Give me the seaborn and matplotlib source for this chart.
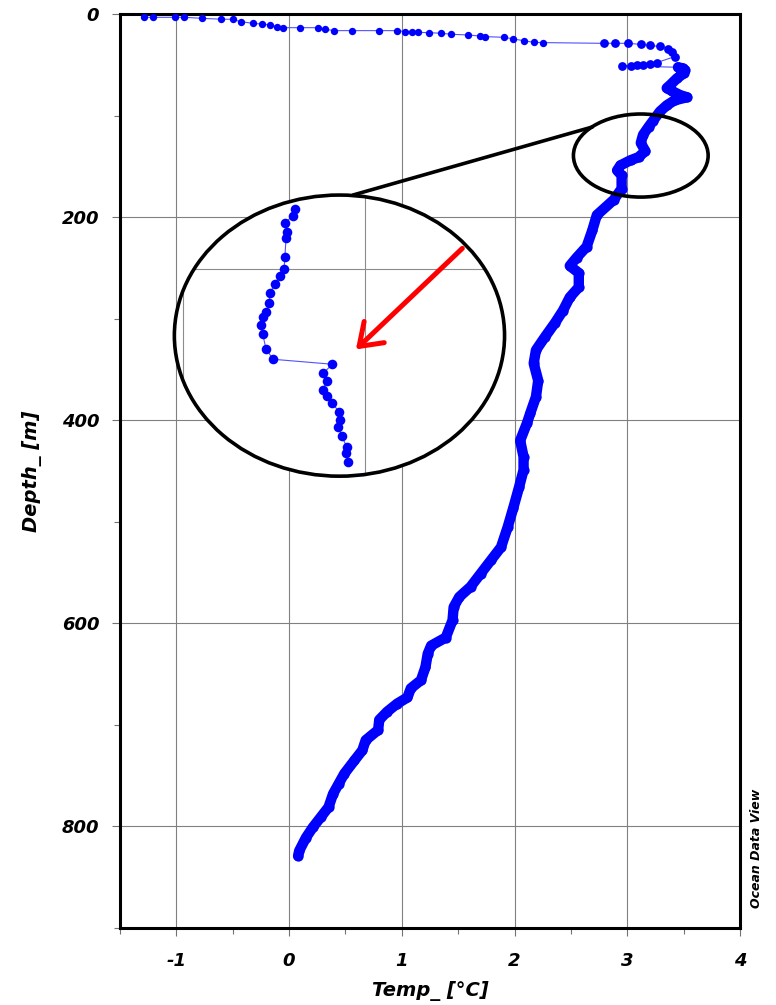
import numpy as np
import pandas as pd
import seaborn as sns
import matplotlib.pyplot as plt
from matplotlib.patches import Ellipse, FancyArrowPatch

# CTD cast: temperature (deg C) and depth (m)
temp = [-1.29, -1.21, -1.01, -0.93, -0.77, -0.60, -0.50, -0.43, -0.32, -0.24,
        -0.17, -0.11, -0.05, 0.10, 0.26, 0.32, 0.40, 0.56, 0.80, 0.96,
        1.03, 1.09, 1.14, 1.24, 1.35, 1.44, 1.59, 1.69, 1.74, 1.91,
        1.99, 2.08, 2.17, 2.25, 2.79, 2.89, 3.01, 3.12, 3.20, 3.29,
        3.36, 3.40, 3.42, 3.26, 3.20, 3.14, 3.09, 3.03, 2.95, 3.45,
        3.49, 3.51, 3.50, 3.44, 3.38, 3.35, 3.40, 3.47, 3.53, 3.42,
        3.35, 3.29, 3.23, 3.19, 3.14, 3.12, 3.16, 3.10, 3.03, 2.94,
        2.91, 2.95, 2.95, 2.88, 2.73, 2.69, 2.64, 2.55, 2.49, 2.57,
        2.57, 2.49, 2.43, 2.36, 2.27, 2.19, 2.17, 2.21, 2.19, 2.14,
        2.11, 2.05, 2.08, 2.08, 2.04, 1.99, 1.94, 1.88, 1.79, 1.70,
        1.61, 1.51, 1.46, 1.45, 1.39, 1.26, 1.23, 1.21, 1.17, 1.08,
        1.05, 0.96, 0.87, 0.80, 0.79, 0.68, 0.65, 0.58, 0.49, 0.44,
        0.39, 0.35, 0.28, 0.21, 0.15, 0.09, 0.08]
depth = [3.3, 3.3, 3.3, 3.3, 4.3, 5.2, 5.2, 7.6, 9.2, 9.9,
         10.8, 12.5, 13.5, 13.5, 13.5, 15.1, 16.4, 16.4, 16.4, 16.4,
         17.4, 17.4, 18.1, 18.4, 19.0, 20.0, 20.7, 21.7, 22.3, 23.0,
         24.6, 26.3, 27.9, 28.2, 28.9, 28.9, 28.9, 30.0, 31.0, 32.0,
         34.0, 37.0, 42.0, 48.0, 49.0, 50.0, 50.5, 51.0, 51.0, 52.5,
         53.5, 55.0, 58.5, 63.5, 70.0, 73.0, 76.0, 80.0, 82.0, 85.0,
         90.0, 96.0, 105.0, 111.0, 119.0, 127.0, 135.0, 141.0, 144.0, 149.0,
         154.0, 159.0, 172.0, 183.0, 198.0, 213.0, 229.0, 240.0, 248.0, 255.0,
         269.0, 279.0, 292.0, 304.0, 318.0, 331.0, 344.0, 361.0, 377.0, 393.0,
         403.0, 420.0, 436.0, 449.0, 466.0, 486.0, 505.0, 525.0, 538.0, 551.0,
         564.0, 574.0, 584.0, 597.0, 614.0, 622.0, 630.0, 643.0, 656.0, 664.0,
         673.0, 679.0, 687.0, 695.0, 705.0, 715.0, 725.0, 735.0, 748.0, 758.0,
         768.0, 781.0, 791.0, 801.0, 811.0, 824.0, 829.0]

# magnified detail shown in the inset circle
zoom_temp = [2.9615, 2.9603, 2.9560, 2.9570, 2.9566, 2.9560, 2.9555, 2.9533,
             2.9505, 2.9478, 2.9474, 2.9456, 2.9441, 2.9427, 2.9438, 2.9456,
             2.9496, 2.9820, 2.9771, 2.9790, 2.9768, 2.9790, 2.9817, 2.9857,
             2.9863, 2.9853, 2.9872, 2.9899, 2.9896, 2.9908]
zoom_depth = [136.02, 136.47, 136.91, 137.51, 137.95, 139.18, 140.02, 140.47,
              141.00, 141.62, 142.29, 142.85, 143.18, 143.73, 144.33, 145.35,
              146.02, 146.35, 146.95, 147.47, 148.07, 148.47, 148.91, 149.51,
              150.07, 150.51, 151.13, 151.85, 152.29, 152.85]

sns.set_style("whitegrid", {"grid.color": "0.5", "axes.edgecolor": "black"})
plt.rcParams['font.family'] = ['DejaVu Sans']
plt.rcParams['text.color'] = 'black'

bold_it = dict(fontweight="bold", fontstyle="italic", color="black")
blue = "#0000ff"
profile = pd.DataFrame({"temp": temp, "depth": depth})
surface = profile.iloc[:34]
upper = profile.iloc[34:50]
dense = profile.iloc[49:]

fig, ax = plt.subplots(figsize=(7.76, 10.05), dpi=100)
fig.subplots_adjust(left=0.1546, right=0.9536, bottom=0.0766, top=0.9861)

# thin connecting line, then the dense cast as a thick band of dots
sns.lineplot(data=profile, x="temp", y="depth", sort=False, estimator=None,
             color="#5050ff", lw=0.8, ax=ax, zorder=3)
sns.lineplot(data=dense, x="temp", y="depth", sort=False, estimator=None,
             color=blue, lw=7.5, solid_capstyle="round", solid_joinstyle="round",
             ax=ax, zorder=3)
sns.scatterplot(data=surface, x="temp", y="depth", color=blue, s=28,
                linewidth=0, ax=ax, zorder=3)
sns.scatterplot(data=upper, x="temp", y="depth", color=blue, s=40,
                linewidth=0, ax=ax, zorder=3)
sns.scatterplot(data=dense, x="temp", y="depth", color=blue, s=55,
                linewidth=0, ax=ax, zorder=3)

ax.set_xlim(-1.5, 4)
ax.set_ylim(900, 0)
ax.set_xticks(np.arange(-1, 5, 1))
ax.set_xticks(np.arange(-1.5, 4.01, 0.5), minor=True)
ax.set_xticklabels(["-1", "0", "1", "2", "3", "4"], fontsize=13, **bold_it)
ax.set_yticks(np.arange(0, 801, 200))
ax.set_yticks(np.arange(100, 901, 200), minor=True)
ax.set_yticklabels(["0", "200", "400", "600", "800"], fontsize=13, **bold_it)
ax.grid(True, which="major", color="0.5", lw=0.8)
ax.grid(False, which="minor")
ax.tick_params(axis="both", which="both", direction="out", color="0.45",
               width=0.8, bottom=True, left=True)
ax.tick_params(axis="both", which="major", length=6)
ax.tick_params(axis="both", which="minor", length=4)
ax.tick_params(axis="y", pad=9)
ax.tick_params(axis="x", pad=11)
for side in ax.spines.values():
    side.set_color("black")
    side.set_linewidth(2.2)
ax.set_xlabel("Temp_ [°C]", fontsize=14, labelpad=8, **bold_it)
ax.set_ylabel("Depth_ [m]", fontsize=14, labelpad=14, **bold_it)

# small circle marking the feature
ax.add_patch(Ellipse((3.12, 139.4), 1.195, 81.8, fc="none", ec="black",
                     lw=2.6, zorder=6))
# large circle holding the magnified view
ax.add_patch(Ellipse((0.447, 316.7), 2.929, 276.8, fc="white", ec="none",
                     zorder=4))
ax.add_patch(Ellipse((0.447, 316.7), 2.929, 276.8, fc="none", ec="black",
                     lw=2.6, zorder=6))
ax.plot([0.566, 2.690], [178.3, 111.3], color="black", lw=2.6, zorder=6)

ax_in = ax.inset_axes([0.0855, 0.4934, 0.534, 0.3085])
ax_in.set_facecolor("none")
sns.lineplot(x=zoom_temp, y=zoom_depth, sort=False, estimator=None,
             color="#5050ff", lw=0.8, ax=ax_in, zorder=3)
sns.scatterplot(x=zoom_temp, y=zoom_depth, color=blue, s=48, linewidth=0,
                ax=ax_in, zorder=3)
ax_in.set_xlim(2.8945, 3.0764)
ax_in.set_ylim(153.87, 135.07)
ax_in.set_xticks([2.9, 3.0])
ax_in.set_yticks([140])
ax_in.tick_params(length=0, labelbottom=False, labelleft=False)
ax_in.set_xlabel("")
ax_in.set_ylabel("")
for side in ax_in.spines.values():
    side.set_visible(False)
ax_in.grid(True, color="0.55", lw=0.8)
clip = Ellipse((0.5, 0.5), 1, 1, transform=ax_in.transAxes)
for gl in ax_in.get_xgridlines() + ax_in.get_ygridlines():
    gl.set_clip_path(clip)

ax.add_patch(FancyArrowPatch((1.537, 230.8), (0.593, 330.3),
                             arrowstyle="->,head_length=1.0,head_width=0.7",
                             mutation_scale=15, lw=3.6, color="red",
                             shrinkA=0, shrinkB=0, zorder=7))

fig.text(0.9755, 0.156, "Ocean Data View", rotation=90, fontsize=9,
         ha="center", va="center", **bold_it)

fig.savefig("out.png", dpi=100)
